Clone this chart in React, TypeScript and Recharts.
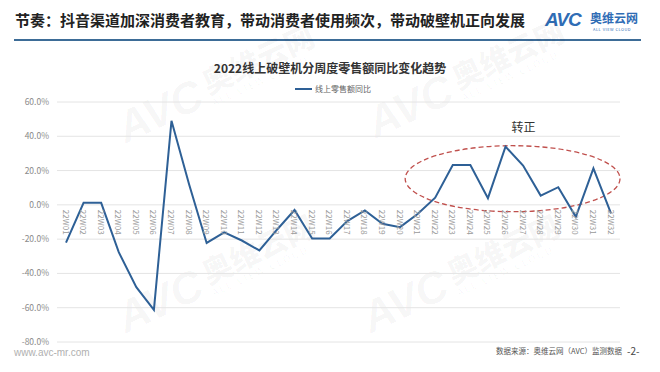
import { CartesianGrid, Line, LineChart, ReferenceArea, XAxis, YAxis } from "recharts";

const weeks = [
  "22W01", "22W02", "22W03", "22W04", "22W05", "22W06", "22W07", "22W08",
  "22W09", "22W10", "22W11", "22W12", "22W13", "22W14", "22W15", "22W16",
  "22W17", "22W18", "22W19", "22W20", "22W21", "22W22", "22W23", "22W24",
  "22W25", "22W26", "22W27", "22W28", "22W29", "22W30", "22W31", "22W32",
];
const yoy = [
  -22, 1.2, 1.2, -27.6, -48, -61.2, 49, 12,
  -22.2, -16, -20.8, -26.6, -14.5, -3, -19.6, -19.6,
  -9.5, -3.3, -11, -13, -5.3, 4.2, 23.3, 23.3,
  3.9, 34, 22.9, 5.4, 10.3, -7, 21.3, -5,
];
const yTicks = [-80, -60, -40, -20, 0, 20, 40, 60];

const data = weeks.map((week, i) => ({ week, yoy: yoy[i] }));

const W = 660;
const H = 372;
const TOP = 102;
const BOTTOM_AXIS = 30;
const PLOT_H = H - TOP - BOTTOM_AXIS;
const Y_MIN = -80;
const Y_MAX = 60;
const ZERO_Y = TOP + (PLOT_H * Y_MAX) / (Y_MAX - Y_MIN);

const font = '"Noto Sans CJK SC", "Noto Sans", sans-serif';

const WeekTick = (props: any) => {
  const { x, payload } = props;
  return (
    <text
      transform={`translate(${x},${ZERO_Y + 5}) rotate(90)`}
      fontSize={8}
      fill="#9a9a9a"
      dominantBaseline="central"
      textAnchor="start"
      fontFamily={font}
    >
      {payload.value}
    </text>
  );
};

// dashed ellipse around the turning region + label
const Oval = (props: any) => {
  const { x, y, width, height } = props;
  const left = x - 30;
  const right = x + width + 9;
  const cx = (left + right) / 2;
  const rx = (right - left) / 2;
  const cy = y + height / 2;
  return (
    <g>
      <ellipse cx={cx} cy={cy} rx={rx} ry={height / 2} fill="none" stroke="#c0504d" strokeWidth={1.3} strokeDasharray="5 3" />
      <text x={cx + 11} y={y - 14} textAnchor="middle" fontSize={12} fill="#333" fontFamily={font}>
        转正
      </text>
    </g>
  );
};

const Watermark = ({ left, top }: { left: number; top: number }) => (
  <div
    style={{
      position: "absolute",
      left,
      top,
      transform: "rotate(-25deg)",
      transformOrigin: "left top",
      color: "rgba(0,0,0,0.04)",
      fontFamily: font,
      whiteSpace: "nowrap",
      pointerEvents: "none",
      display: "flex",
      alignItems: "flex-end",
    }}
  >
    <span style={{ fontSize: 44, fontWeight: 900, fontStyle: "italic", fontFamily: "Arial, sans-serif", lineHeight: 1 }}>AVC</span>
    <span style={{ display: "flex", flexDirection: "column", marginLeft: 6 }}>
      <span style={{ fontSize: 30, fontWeight: 900, lineHeight: 1 }}>奥维云网</span>
      <span style={{ fontSize: 10, letterSpacing: 2, lineHeight: 1.4 }}>ALL VIEW CLOUD</span>
    </span>
  </div>
);

export default function App() {
  return (
    <div style={{ position: "absolute", left: 0, top: 0, width: W, height: H, background: "#fff", overflow: "hidden", fontFamily: font }}>
      <div style={{ position: "absolute", left: 15, top: 10, fontSize: 15, fontWeight: 600, color: "#222", whiteSpace: "nowrap", lineHeight: "20px" }}>
        节奏：抖音渠道加深消费者教育，带动消费者使用频次，带动破壁机正向发展
      </div>
      <div style={{ position: "absolute", left: 14, top: 39, width: 627, height: 2, background: "#3d6c97" }} />
      <div style={{ position: "absolute", left: 545, top: 9, fontSize: 19, fontWeight: 900, fontStyle: "italic", color: "#2f6db5", fontFamily: "Arial, sans-serif", letterSpacing: -1 }}>
        AVC
      </div>
      <div style={{ position: "absolute", left: 590, top: 11, fontSize: 12, fontWeight: 700, color: "#2f6db5", lineHeight: "14px" }}>
        奥维云网
      </div>
      <div style={{ position: "absolute", left: 593, top: 26, fontSize: 4, color: "#2f6db5", letterSpacing: 0.5 }}>ALL VIEW CLOUD</div>

      <div style={{ position: "absolute", left: 0, width: W, top: 60, textAlign: "center", fontSize: 12, fontWeight: 700, color: "#333", lineHeight: "16px" }}>
        2022线上破壁机分周度零售额同比变化趋势
      </div>
      <div style={{ position: "absolute", left: 295, top: 83, display: "flex", alignItems: "center", fontSize: 8, color: "#666" }}>
        <span style={{ width: 17, height: 2, background: "#2e6096", marginRight: 3 }} />
        线上零售额同比
      </div>

      <Watermark left={110} top={110} />
      <Watermark left={360} top={105} />
      <Watermark left={110} top={300} />
      <Watermark left={355} top={300} />

      <div style={{ position: "absolute", left: 0, top: 0 }}>
        <LineChart width={W} height={H} data={data} margin={{ top: TOP, right: 40, bottom: 0, left: 7 }}>
          <CartesianGrid vertical={false} stroke="#e4e4e4" />
          <XAxis
            dataKey="week"
            height={BOTTOM_AXIS}
            axisLine={false}
            tickLine={false}
            interval={0}
            padding={{ left: 9, right: 9 }}
            tick={<WeekTick />}
          />
          <YAxis
            width={50}
            domain={[Y_MIN, Y_MAX]}
            ticks={yTicks}
            axisLine={false}
            tickLine={false}
            tickFormatter={(v: number) => `${v.toFixed(1)}%`}
            tick={{ fontSize: 8.5, fill: "#8a8a8a", fontFamily: font }}
          />
          <ReferenceArea x1="22W22" x2="22W32" y1={-4} y2={34.5} shape={<Oval />} ifOverflow="visible" />
          <Line type="linear" dataKey="yoy" stroke="#2e6096" strokeWidth={2} dot={false} activeDot={false} isAnimationActive={false} />
        </LineChart>
      </div>

      <div style={{ position: "absolute", left: 14, top: 347, fontSize: 10, lineHeight: "12px", color: "#b0b0b0", fontFamily: "Arial, sans-serif" }}>www.avc-mr.com</div>
      <div style={{ position: "absolute", left: 496, top: 346, fontSize: 7.5, lineHeight: "10px", color: "#555", whiteSpace: "nowrap" }}>
        数据来源：奥维云网（AVC）监测数据
      </div>
      <div style={{ position: "absolute", left: 627, top: 345, fontSize: 10, lineHeight: "12px", color: "#444" }}>-2-</div>
    </div>
  );
}
